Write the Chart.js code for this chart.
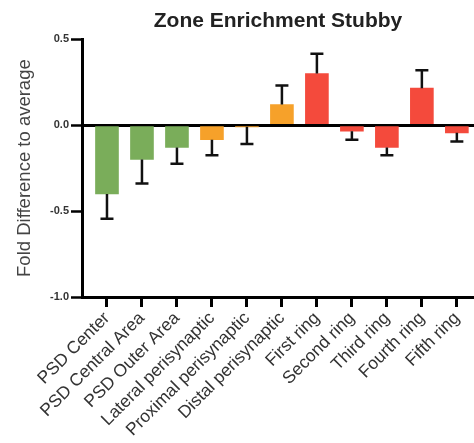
<!DOCTYPE html>
<html>
<head>
<meta charset="utf-8">
<script src="https://cdn.jsdelivr.net/npm/chart.js@4"></script>
<style>
  html, body { margin: 0; padding: 0; background: #fff; }
  #wrap { width: 474px; height: 443px; }
</style>
</head>
<body>
<div id="wrap"><canvas id="chart" width="474" height="443"></canvas></div>
<script>
// Data
var zones = ['PSD Center', 'PSD Central Area', 'PSD Outer Area', 'Lateral perisynaptic',
  'Proximal perisynaptic', 'Distal perisynaptic', 'First ring', 'Second ring',
  'Third ring', 'Fourth ring', 'Fifth ring'];
var foldDiff = [-0.40, -0.20, -0.13, -0.085, -0.01, 0.12, 0.30, -0.035, -0.13, 0.215, -0.045];
var errors   = [0.145, 0.14, 0.095, 0.09, 0.10, 0.11, 0.115, 0.05, 0.045, 0.105, 0.05];
var zoneGroup = ['psd', 'psd', 'psd', 'peri', 'peri', 'peri', 'ring', 'ring', 'ring', 'ring', 'ring'];
var yTicks = [-1.0, -0.5, 0.0, 0.5];

var groupColors = { psd: '#7aad5a', peri: '#f6a12a', ring: '#f44a3c' };
var FONT = "Arial, 'Liberation Sans', sans-serif";

// error bars, one-sided (away from zero)
var errorBars = {
  id: 'errorBars',
  afterDatasetsDraw: function(chart) {
    var ctx = chart.ctx, xs = chart.scales.x, ys = chart.scales.y;
    ctx.save();
    ctx.strokeStyle = '#111';
    ctx.lineWidth = 2.5;
    foldDiff.forEach(function(v, i) {
      var px = xs.getPixelForValue(i);
      var end = v >= 0 ? v + errors[i] : v - errors[i];
      var y0 = ys.getPixelForValue(v);
      var y1 = ys.getPixelForValue(end);
      ctx.beginPath();
      ctx.moveTo(px, y0);
      ctx.lineTo(px, y1);
      ctx.moveTo(px - 6.5, y1);
      ctx.lineTo(px + 6.5, y1);
      ctx.stroke();
    });
    ctx.restore();
  }
};

var ctx = document.getElementById('chart').getContext('2d');
var chart = new Chart(ctx, {
  type: 'bar',
  data: {
    datasets: [{
      data: foldDiff.map(function(v, i) { return { x: i, y: v }; }),
      backgroundColor: zoneGroup.map(function(g) { return groupColors[g]; }),
      borderWidth: 0,
      barThickness: 23
    }]
  },
  options: {
    responsive: false,
    animation: false,
    layout: { padding: 0 },
    plugins: {
      legend: { display: false },
      tooltip: { enabled: false },
      title: {
        display: true,
        fullSize: false,
        text: 'Zone Enrichment Stubby',
        color: '#222',
        font: { family: FONT, size: 21, weight: 'bold' },
        padding: { top: 9, bottom: 5 }
      }
    },
    scales: {
      x: {
        type: 'linear',
        offset: false,
        min: -0.714,
        max: 10.49,
        afterBuildTicks: function(s) {
          s.ticks = zones.map(function(_, i) { return { value: i }; });
        },
        afterFit: function(s) { s.height = 146; },
        border: { display: true, color: '#000', width: 3 },
        grid: { offset: false, drawOnChartArea: false, drawTicks: true, tickLength: 10, tickWidth: 3, tickColor: '#000', color: '#000' },
        ticks: {
          autoSkip: false,
          minRotation: 45,
          maxRotation: 45,
          padding: 1,
          color: '#333',
          font: { family: FONT, size: 17.5 },
          callback: function(v) { return zones[v]; }
        }
      },
      y: {
        min: -1.0,
        max: 0.5,
        afterBuildTicks: function(s) {
          s.ticks = yTicks.map(function(v) { return { value: v }; });
        },
        afterFit: function(s) { s.width = 82; },
        border: { display: true, color: '#000', width: 3 },
        grid: {
          drawOnChartArea: true,
          tickLength: 11,
          tickWidth: 2.5,
          tickColor: '#000',
          lineWidth: 3,
          color: function(c) { return c.tick && c.tick.value === 0 ? '#000' : 'rgba(0,0,0,0)'; }
        },
        ticks: {
          padding: 2,
          color: '#333',
          font: { family: FONT, size: 11, weight: 'bold' },
          callback: function(v) { return v.toFixed(1); }
        },
        title: {
          display: true,
          text: 'Fold Difference to average',
          color: '#444',
          font: { family: FONT, size: 18.5 },
          padding: { top: 14, bottom: 0 }
        }
      }
    }
  },
  plugins: [errorBars]
});
</script>
</body>
</html>
